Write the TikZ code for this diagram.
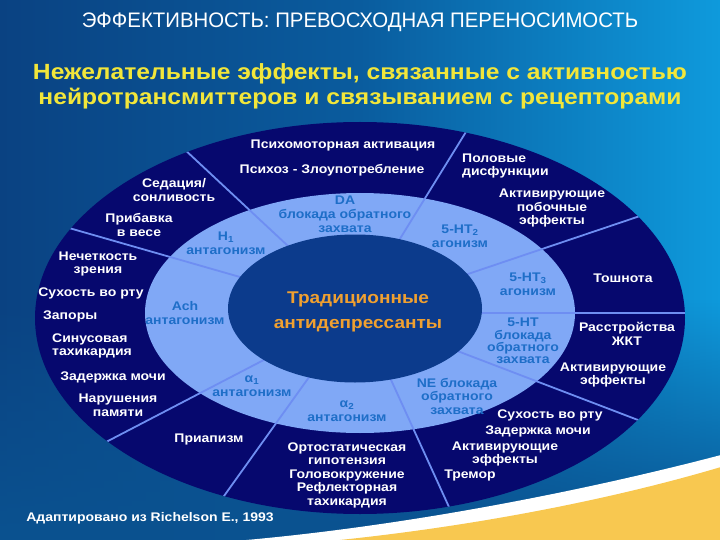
\documentclass[tikz,border=0pt]{standalone}
\usepackage{fontspec}
\usetikzlibrary{calc,fadings}
\newfontfamily\bodyfont[FakeStretch=1.12]{Liberation Sans}
\newfontfamily\titlefont[FakeStretch=0.97]{Liberation Sans}
\definecolor{outerc}{HTML}{06086E}
\definecolor{ringc}{HTML}{80A8F6}
\definecolor{innerc}{HTML}{0C3B8C}
\definecolor{divc}{HTML}{6E8EF2}
\definecolor{ringtext}{HTML}{1E6EC8}
\definecolor{centertext}{HTML}{F0A030}
\definecolor{subyellow}{HTML}{F2E63A}
\definecolor{swooshy}{HTML}{F8C850}
\definecolor{bgA}{HTML}{0A4282}
\definecolor{bgB}{HTML}{0E9ADC}
\definecolor{bgM}{HTML}{0A5C9E}
\definecolor{bgD}{HTML}{0A5290}
\tikzset{
  wtxt/.style={text=white, font=\bodyfont\bfseries\fontsize{12.5}{13.8}\selectfont, align=center, inner sep=0pt},
  btxt/.style={text=ringtext, font=\bodyfont\bfseries\fontsize{12.5}{14}\selectfont, align=center, inner sep=0pt},
  divider/.style={draw=divc, line width=1.8pt},
}
\begin{document}
\begin{tikzpicture}[x=1pt,y=-1pt]
\useasboundingbox (0,0) rectangle (720,540);
% background
\shade[left color=bgA, right color=bgB, middle color=bgM] (0,0) rectangle (720,540);
\fill[bgD, path fading=north] (0,300) rectangle (720,540);
% swoosh
\fill[white] (235,541) .. controls (400,527) and (580,492) .. (721,455) -- (721,541) -- cycle;
\fill[swooshy] (330,541) .. controls (470,527) and (610,500) .. (721,467) -- (721,541) -- cycle;
% titles
\node[text=white, font=\titlefont\fontsize{21}{24}\selectfont, inner sep=0pt] (title) at (360,22) {ЭФФЕКТИВНОСТЬ: ПРЕВОСХОДНАЯ ПЕРЕНОСИМОСТЬ};
\node[text=subyellow, font=\bodyfont\bfseries\fontsize{22}{25}\selectfont, align=center, inner sep=0pt] (subtitle) at (360,86) {Нежелательные эффекты, связанные с активностью\\нейротрансмиттеров и связыванием с рецепторами};
% ellipses
\fill[outerc] (360,318) ellipse [x radius=325pt, y radius=196pt];
\fill[ringc] (360,313) ellipse [x radius=215pt, y radius=120pt];
% dividers
\coordinate (i1) at (288,246); \coordinate (o1) at (183,148);
\coordinate (i2) at (240,277); \coordinate (o2) at (69,228);
\coordinate (i3) at (398,242); \coordinate (o3) at (469,127);
\coordinate (i4) at (465,275); \coordinate (o4) at (640,216);
\coordinate (i5) at (480,313); \coordinate (o5) at (684,313);
\coordinate (i6) at (460,352); \coordinate (o6) at (638,420);
\coordinate (i7) at (392,382); \coordinate (o7) at (449,507);
\coordinate (i8) at (307,380); \coordinate (o8) at (224,496);
\coordinate (i9) at (258,363); \coordinate (o9) at (108,441);
\begin{scope}
\clip (360,318) ellipse [x radius=325pt, y radius=196pt];
\foreach \k in {1,...,9}{
  \draw[divider] ($(i\k)!-0.08!(o\k)$) -- ($(i\k)!1.1!(o\k)$);
}
\end{scope}
\fill[innerc] (355,308.5) ellipse [x radius=127pt, y radius=74pt];
% center
\node[text=centertext, font=\bodyfont\bfseries\fontsize{17}{25}\selectfont, align=center, inner sep=0pt] (center) at (358,312) {Традиционные\\антидепрессанты};
% ring labels
\node[btxt] (da) at (345,214) {DA\\блокада обратного\\захвата};
\node[btxt] (h1) at (226,243) {H\textsubscript{1}\\антагонизм};
\node[btxt] (ht2) at (460,236) {5-HT\textsubscript{2}\\агонизм};
\node[btxt] (ht3) at (528,284) {5-HT\textsubscript{3}\\агонизм};
\node[btxt, font=\bodyfont\bfseries\fontsize{12.5}{12.2}\selectfont] (ht) at (523,341) {5-HT\\блокада\\обратного\\захвата};
\node[btxt, font=\bodyfont\bfseries\fontsize{12.5}{13.5}\selectfont] (ne) at (457,396) {NE блокада\\обратного\\захвата};
\node[btxt] (a2) at (347,411) {α\textsubscript{2}\\антагонизм};
\node[btxt] (a1) at (252,386) {α\textsubscript{1}\\антагонизм};
\node[btxt] (ach) at (185,313) {Ach\\антагонизм};
% outer labels
\node[wtxt] (psy1) at (343,145) {Психомоторная активация};
\node[wtxt] (psy2) at (332,170) {Психоз - Злоупотребление};
\node[wtxt, align=left, anchor=west] (sex) at (462,166) {Половые\\дисфункции};
\node[wtxt] (act1) at (552,208) {Активирующие\\побочные\\эффекты};
\node[wtxt] (nausea) at (623,278) {Тошнота};
\node[wtxt] (gi) at (627,334) {Расстройства\\ЖКТ};
\node[wtxt] (act2) at (613,375) {Активирующие\\эффекты};
\node[wtxt] (dry2) at (550,415) {Сухость во рту};
\node[wtxt] (ret2) at (538,431) {Задержка мочи};
\node[wtxt] (act3) at (505,454) {Активирующие\\эффекты};
\node[wtxt] (trem) at (470,475) {Тремор};
\node[wtxt, font=\bodyfont\bfseries\fontsize{12.5}{13.5}\selectfont] (ortho) at (347,475) {Ортостатическая\\гипотензия\\Головокружение\\Рефлекторная\\тахикардия};
\node[wtxt] (pri) at (209,439) {Приапизм};
\node[wtxt] (mem) at (118,405) {Нарушения\\памяти};
\node[wtxt] (ret1) at (113,377) {Задержка мочи};
\node[wtxt, align=left, anchor=west] (sinus) at (52,346) {Синусовая\\тахикардия};
\node[wtxt, anchor=west] (const) at (43,316) {Запоры};
\node[wtxt] (dry1) at (91,293) {Сухость во рту};
\node[wtxt] (vis) at (98,264) {Нечеткость\\зрения};
\node[wtxt] (wt) at (139,225) {Прибавка\\в весе};
\node[wtxt] (sed) at (174,190) {Седация/\\сонливость};
% footer
\node[wtxt] (src) at (150,518) {Адаптировано из Richelson E., 1993};
\end{tikzpicture}
\end{document}
